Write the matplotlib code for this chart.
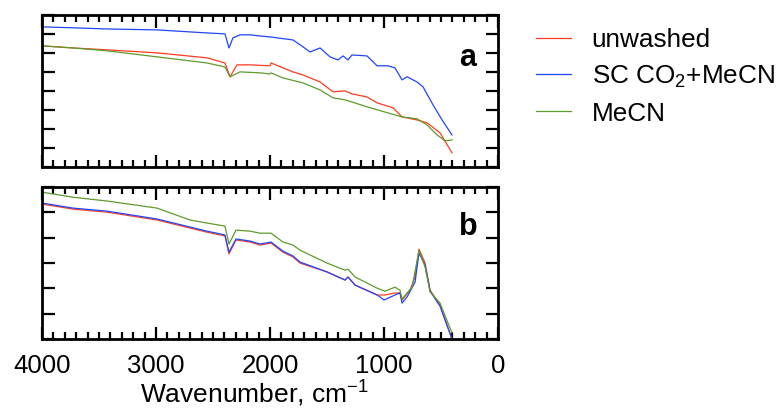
import matplotlib
matplotlib.use("Agg")
import matplotlib.pyplot as plt
from matplotlib.ticker import MultipleLocator

plt.rcParams['font.family'] = ['Liberation Sans', 'DejaVu Sans']
plt.rcParams['mathtext.fontset'] = 'custom'
plt.rcParams['mathtext.rm'] = 'Liberation Sans'
plt.rcParams['mathtext.it'] = 'Liberation Sans:italic'
plt.rcParams['mathtext.bf'] = 'Liberation Sans:bold'

# ---- panel a: transmittance (a.u.) vs wavenumber (cm-1) ----
a_unwashed_wn = [4000, 3728, 3430, 2991, 2553, 2395, 2351, 2289, 2175, 2000, 1991, 1886,
                 1798, 1711, 1561, 1447, 1342, 1281, 1149, 1061, 921, 842, 711, 623, 509, 404]
a_unwashed_t = [63.7, 62.6, 61.6, 60.0, 57.4, 54.7, 47.4, 53.7, 53.7, 53.2, 54.7, 52.1,
                50.0, 48.4, 44.7, 39.5, 40.0, 38.4, 36.8, 33.7, 31.1, 26.3, 24.7, 23.2, 17.9, 7.4]

a_sc_wn = [4000, 3728, 3430, 2991, 2553, 2395, 2360, 2325, 2263, 2175, 2088, 2000, 1798,
           1711, 1649, 1561, 1474, 1404, 1360, 1316, 1281, 1149, 1061, 965, 904, 842, 798,
           711, 658, 570, 491, 404]
a_sc_t = [73.7, 73.2, 72.6, 72.1, 70.5, 70.0, 62.6, 67.9, 69.5, 69.5, 68.9, 68.4, 66.8,
          63.2, 60.5, 62.6, 57.9, 56.3, 58.4, 56.3, 58.9, 58.4, 53.2, 53.2, 52.1, 45.8, 47.4,
          44.7, 42.1, 32.6, 24.7, 16.8]

a_mecn_wn = [4000, 3728, 3430, 2991, 2553, 2395, 2351, 2263, 2088, 2000, 1991, 1886, 1711,
             1561, 1447, 1342, 1149, 965, 842, 711, 623, 535, 465, 404]
a_mecn_t = [63.7, 62.6, 61.1, 57.9, 54.7, 52.6, 47.4, 50.0, 49.5, 48.9, 49.5, 46.8, 44.2,
            40.5, 36.3, 35.3, 31.6, 28.4, 26.3, 25.3, 22.1, 16.8, 13.7, 14.2]

# ---- panel b ----
b_unwashed_wn = [4000, 3728, 3430, 2991, 2553, 2395, 2360, 2298, 2175, 2088, 1991, 1886,
                 1798, 1737, 1500, 1342, 1316, 1254, 1061, 991, 904, 860, 842, 772, 728,
                 693, 640, 596, 509, 404]
b_unwashed_t = [53.3, 51.3, 50.1, 47.0, 42.2, 40.7, 33.6, 39.1, 38.3, 37.1, 37.9, 34.3,
                32.4, 30.0, 26.5, 23.3, 24.5, 21.3, 17.4, 17.4, 18.2, 18.2, 15.4, 19.3, 24.5,
                35.5, 30.0, 19.3, 13.4, 0.0]

b_sc_wn = [4000, 3728, 3430, 2991, 2553, 2395, 2360, 2298, 2175, 2088, 1991, 1886, 1798,
           1737, 1500, 1342, 1316, 1254, 1061, 1035, 1000, 904, 860, 842, 798, 728, 693,
           640, 596, 509, 404]
b_sc_t = [53.7, 51.7, 50.5, 47.4, 42.6, 41.1, 34.3, 39.5, 38.7, 37.5, 38.3, 34.7, 32.8,
          30.4, 26.5, 23.3, 24.5, 21.3, 17.4, 16.6, 15.4, 17.4, 18.2, 14.2, 16.6, 22.5, 34.0,
          29.2, 18.9, 13.0, 0.0]

b_mecn_wn = [4000, 3728, 3430, 2991, 2702, 2553, 2395, 2360, 2298, 2175, 2088, 1991, 1886,
             1798, 1737, 1500, 1342, 1316, 1254, 1061, 991, 904, 860, 842, 754, 693, 640,
             596, 509, 404]
b_mecn_t = [58.0, 56.0, 54.5, 51.7, 47.0, 45.8, 44.6, 37.5, 43.0, 42.6, 41.8, 41.8, 38.3,
            37.1, 35.1, 30.0, 27.2, 27.6, 24.5, 20.1, 18.9, 20.5, 19.3, 15.8, 20.5, 35.1,
            28.4, 18.6, 14.2, 2.4]

labels = ['unwashed', r'SC CO$_\mathrm{2}$+MeCN', 'MeCN']
colors = ['#ff3b1f', '#1f45ff', '#5e9a2c']

fig = plt.figure(figsize=(7.77, 4.09), dpi=100)
ax_a = fig.add_axes([0.054, 0.592, 0.587, 0.3716])
ax_b = fig.add_axes([0.054, 0.171, 0.587, 0.3716])

series_a = [(a_unwashed_wn, a_unwashed_t), (a_sc_wn, a_sc_t), (a_mecn_wn, a_mecn_t)]
series_b = [(b_unwashed_wn, b_unwashed_t), (b_sc_wn, b_sc_t), (b_mecn_wn, b_mecn_t)]

handles = []
for (x, y), c, lab in zip(series_a, colors, labels):
    h, = ax_a.plot(x, y, color=c, lw=0.9, label=lab)
    handles.append(h)
for (x, y), c in zip(series_b, colors):
    ax_b.plot(x, y, color=c, lw=0.9)

ax_a.set_ylim(0, 80)
ax_b.set_ylim(0, 60)
for ax in (ax_a, ax_b):
    ax.set_xlim(4000, 0)
    ax.xaxis.set_major_locator(MultipleLocator(1000))
    ax.xaxis.set_minor_locator(MultipleLocator(100))
    ax.yaxis.set_major_locator(MultipleLocator(10))
    ax.tick_params(axis='x', which='major', direction='in', top=True, bottom=True,
                   length=9, width=1.6, labelsize=18.5, pad=11)
    ax.tick_params(axis='x', which='minor', direction='in', top=True, bottom=True,
                   length=5, width=1.6)
    ax.tick_params(axis='y', which='major', direction='in', left=True, right=True,
                   length=9, width=1.6, labelleft=False)
    for s in ax.spines.values():
        s.set_linewidth(2.0)

ax_a.tick_params(axis='x', which='both', labelbottom=False)
ax_b.set_xlabel(r'Wavenumber, cm$^\mathrm{-1}$', fontsize=19, va='bottom')
ax_b.xaxis.set_label_coords(0.467, -0.457)

ax_a.text(0.934, 0.664, 'a', transform=ax_a.transAxes, fontsize=22,
          fontweight='bold', ha='center', va='baseline')
ax_b.text(0.934, 0.684, 'b', transform=ax_b.transAxes, fontsize=22,
          fontweight='bold', ha='center', va='baseline')

fig.legend(handles=handles, loc='upper left', bbox_to_anchor=(0.690, 0.932),
           frameon=False, fontsize=18.8, handlelength=1.35, handletextpad=0.78,
           labelspacing=0.45, borderpad=0, borderaxespad=0)

fig.savefig('out.png', dpi=100)
